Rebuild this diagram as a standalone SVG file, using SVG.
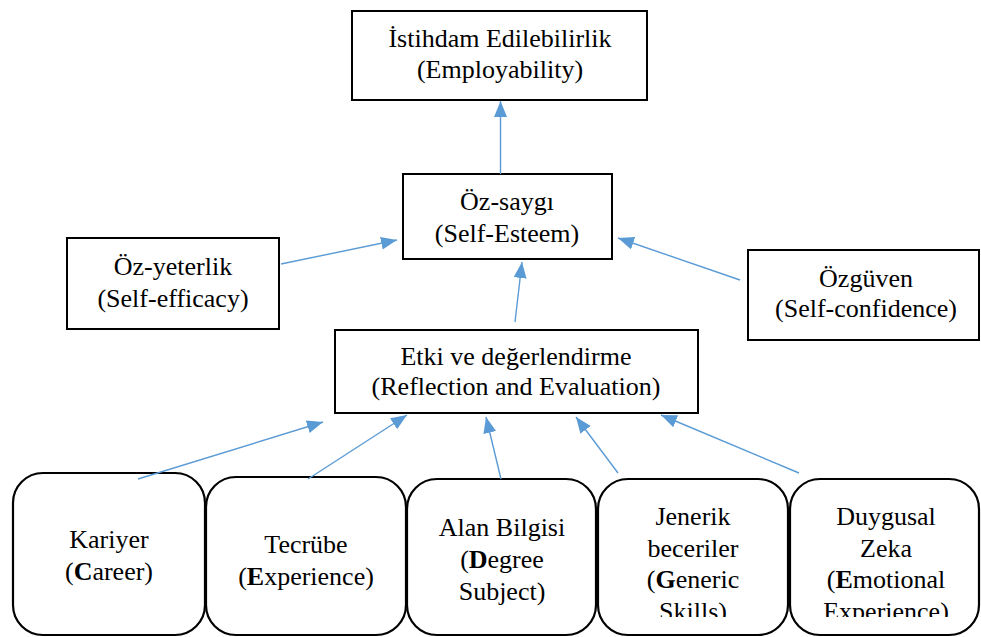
<svg xmlns="http://www.w3.org/2000/svg" width="981" height="637" viewBox="0 0 981 637">
<style>
.box{fill:#fff;stroke:#000;stroke-width:2}
.rbox{fill:#fff;stroke:#000;stroke-width:2.2}
.t text{font-size:26px;fill:#000;text-anchor:middle}
.b{font-weight:bold}
.conn{stroke:#5B9BD5;stroke-width:1.4;fill:none;marker-end:url(#ah)}
</style>
<defs>
<marker id="ah" markerUnits="userSpaceOnUse" markerWidth="18" markerHeight="14" refX="16" refY="6.5" orient="auto">
<path d="M0,0 L16,6.5 L0,13 Z" fill="#5B9BD5"/>
</marker>
<clipPath id="clipBottom"><rect x="0" y="0" width="981" height="617"/></clipPath>
</defs>
<rect width="981" height="637" fill="#fff"/>
<g class="t" font-family="'Liberation Serif', 'DejaVu Serif', 'Times New Roman', serif">
<g id="employability">
<rect class="box" x="352" y="11" width="295" height="89"/>
<text x="500" y="47">İstihdam Edilebilirlik</text>
<text x="500" y="78">(Employability)</text>
</g>
<g id="self-esteem">
<rect class="box" x="403" y="174" width="209" height="85"/>
<text x="507" y="210">Öz-saygı</text>
<text x="507" y="242">(Self-Esteem)</text>
</g>
<g id="self-efficacy">
<rect class="box" x="67" y="238" width="212" height="91"/>
<text x="173" y="275">Öz-yeterlik</text>
<text x="173" y="307">(Self-efficacy)</text>
</g>
<g id="self-confidence">
<rect class="box" x="748" y="250" width="231" height="90"/>
<text x="866" y="287">Özgüven</text>
<text x="866" y="317">(Self-confidence)</text>
</g>
<g id="reflection">
<rect class="box" x="335" y="330" width="363" height="83"/>
<text x="516" y="365">Etki ve değerlendirme</text>
<text x="516" y="395">(Reflection and Evaluation)</text>
</g>
<g id="career">
<rect class="rbox" x="13" y="473" width="192" height="162" rx="30" ry="30"/>
<text x="109" y="548">Kariyer</text>
<text x="109" y="580">(<tspan class="b">C</tspan>areer)</text>
</g>
<g id="experience">
<rect class="rbox" x="206" y="477" width="200" height="158" rx="30" ry="30"/>
<text x="306" y="553">Tecrübe</text>
<text x="306" y="585">(<tspan class="b">E</tspan>xperience)</text>
</g>
<g id="degree">
<rect class="rbox" x="407" y="479" width="189" height="156" rx="30" ry="30"/>
<text x="502" y="536">Alan Bilgisi</text>
<text x="502" y="568">(<tspan class="b">D</tspan>egree</text>
<text x="502" y="600">Subject)</text>
</g>
<g id="generic">
<rect class="rbox" x="598" y="479" width="190" height="156" rx="30" ry="30"/>
<g clip-path="url(#clipBottom)">
<text x="693" y="525">Jenerik</text>
<text x="693" y="557">beceriler</text>
<text x="693" y="588">(<tspan class="b">G</tspan>eneric</text>
<text x="693" y="620">Skills)</text>
</g>
</g>
<g id="emotional">
<rect class="rbox" x="790" y="479" width="189" height="156" rx="30" ry="30"/>
<g clip-path="url(#clipBottom)">
<text x="886" y="525">Duygusal</text>
<text x="886" y="557">Zeka</text>
<text x="886" y="588">(<tspan class="b">E</tspan>motional</text>
<text x="886" y="620">Experience)</text>
</g>
</g>
</g>
<g id="connectors">
<line class="conn" x1="500.5" y1="174" x2="500.5" y2="101"/>
<line class="conn" x1="281" y1="264" x2="397" y2="240"/>
<line class="conn" x1="740" y1="280" x2="618" y2="238"/>
<line class="conn" x1="515" y1="322" x2="522" y2="262"/>
<line class="conn" x1="138" y1="479" x2="323" y2="422"/>
<line class="conn" x1="308" y1="479" x2="407" y2="415"/>
<line class="conn" x1="501" y1="479" x2="486" y2="417"/>
<line class="conn" x1="618" y1="473" x2="576" y2="417"/>
<line class="conn" x1="799" y1="473" x2="661" y2="415"/>
</g>
</svg>
